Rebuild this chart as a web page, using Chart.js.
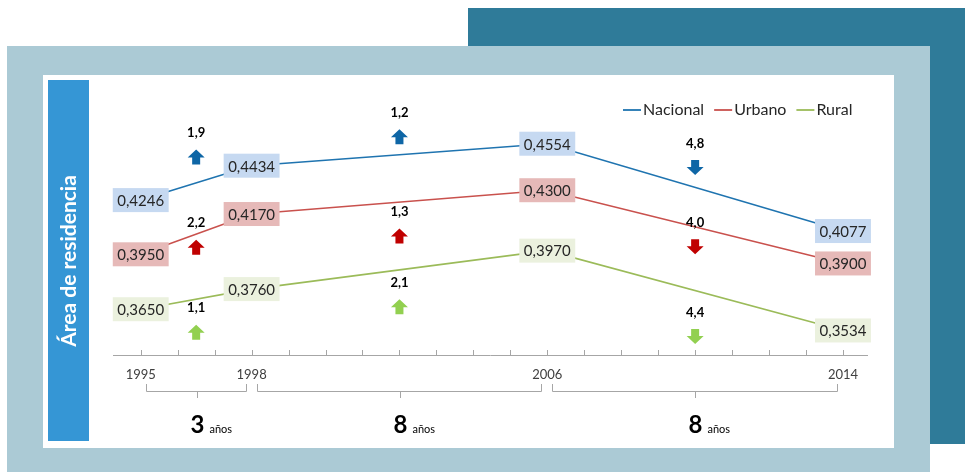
<!DOCTYPE html>
<html>
<head>
<meta charset="utf-8">
<script src="https://cdn.jsdelivr.net/npm/chart.js"></script>
<style>
  html, body { margin: 0; padding: 0; background: #fff; }
  canvas { display: block; }
</style>
</head>
<body>
<canvas id="lineChart" width="965" height="472"></canvas>
<script>
const years = [1995, 1998, 2006, 2014];
const seriesNames = ['Nacional', 'Urbano', 'Rural'];
const nacional = [0.4246, 0.4434, 0.4554, 0.4077];
const urbano = [0.3950, 0.4170, 0.4300, 0.3900];
const rural = [0.3650, 0.3760, 0.3970, 0.3534];
// variación entre periodos (negativo = baja)
const nacionalChange = [1.9, 1.2, -4.8];
const urbanoChange = [2.2, 1.3, -4.0];
const ruralChange = [1.1, 2.1, -4.4];
const titleText = 'Área de residencia';
const unitText = 'años';

const FONT = 'Lato, "Noto Sans", sans-serif';
const lineColors = ['#1F74B0', '#C9514D', '#9BBB59'];
const boxColors = ['#C6D9F1', '#E6B9B8', '#EBF1DE'];
const arrowColors = ['#0E66A6', '#C00000', '#92D050'];
// desplazamiento vertical de las flechas respecto al punto medio del tramo
const arrowOffsets = [[-26, -18, -20], [13, 34, 20], [33, 37, 46]];

const allValues = [nacional, urbano, rural];
const allChanges = [nacionalChange, urbanoChange, ruralChange];

const fmt = v => v.toFixed(4).replace('.', ',');
const fmt1 = v => Math.abs(v).toFixed(1).replace('.', ',');

function drawArrow(ctx, x, y, up, color) {
  const w = 17, h = 15, head = 8, shaft = 8;
  const d = up ? 1 : -1;
  const top = y - d * h / 2, bot = y + d * h / 2, neck = top + d * head;
  ctx.fillStyle = color;
  ctx.beginPath();
  ctx.moveTo(x, top);
  ctx.lineTo(x + w / 2, neck);
  ctx.lineTo(x + shaft / 2, neck);
  ctx.lineTo(x + shaft / 2, bot);
  ctx.lineTo(x - shaft / 2, bot);
  ctx.lineTo(x - shaft / 2, neck);
  ctx.lineTo(x - w / 2, neck);
  ctx.closePath();
  ctx.fill();
}

const decoPlugin = {
  id: 'deco',
  beforeDraw(chart) {
    const ctx = chart.ctx;
    ctx.save();
    ctx.fillStyle = '#2F7B99';
    ctx.fillRect(468, 8, 497, 436);
    ctx.fillStyle = '#ABCAD5';
    ctx.fillRect(7, 46, 923, 426);
    ctx.fillStyle = '#FFFFFF';
    ctx.fillRect(43, 75, 851, 373);
    ctx.fillStyle = '#3596D5';
    ctx.fillRect(48, 80, 41, 361);
    ctx.translate(68, 261);
    ctx.rotate(-Math.PI / 2);
    ctx.fillStyle = '#FFFFFF';
    ctx.font = 'bold 21px ' + FONT;
    ctx.textAlign = 'center';
    ctx.textBaseline = 'middle';
    ctx.fillText(titleText, 0, 1);
    ctx.restore();
  },
  afterDatasetsDraw(chart) {
    const ctx = chart.ctx;
    const xs = chart.scales.x, ys = chart.scales.y;
    ctx.save();

    // flechas y variaciones
    allChanges.forEach((ch, s) => {
      ch.forEach((v, i) => {
        const x = xs.getPixelForValue((years[i] + years[i + 1]) / 2);
        const yMid = (ys.getPixelForValue(allValues[s][i]) + ys.getPixelForValue(allValues[s][i + 1])) / 2;
        const ay = yMid + arrowOffsets[s][i];
        drawArrow(ctx, x, ay, v > 0, arrowColors[s]);
        ctx.fillStyle = '#000';
        ctx.font = 'bold 13px ' + FONT;
        ctx.textAlign = 'center';
        ctx.textBaseline = 'middle';
        ctx.fillText(fmt1(v), x, ay - 24);
      });
    });

    // etiquetas de valores
    ctx.font = '15px ' + FONT;
    ctx.textAlign = 'center';
    ctx.textBaseline = 'middle';
    allValues.forEach((vals, s) => {
      vals.forEach((v, i) => {
        const x = xs.getPixelForValue(years[i]);
        const y = ys.getPixelForValue(v);
        const t = fmt(v);
        const w = ctx.measureText(t).width + 9;
        ctx.fillStyle = boxColors[s];
        ctx.fillRect(x - w / 2, y - 12, w, 24);
        ctx.fillStyle = '#262626';
        ctx.fillText(t, x, y + 1);
      });
    });

    // leyenda
    let lx = 623;
    ctx.font = '16px ' + FONT;
    ctx.textAlign = 'left';
    seriesNames.forEach((name, s) => {
      ctx.strokeStyle = lineColors[s];
      ctx.lineWidth = 1.8;
      ctx.beginPath();
      ctx.moveTo(lx, 110);
      ctx.lineTo(lx + 18, 110);
      ctx.stroke();
      ctx.fillStyle = '#262626';
      ctx.fillText(name, lx + 20, 110);
      lx += 20 + ctx.measureText(name).width + 10;
    });
    ctx.restore();
  },
  afterDraw(chart) {
    const ctx = chart.ctx;
    const xs = chart.scales.x;
    const bottom = chart.chartArea.bottom;
    ctx.save();
    ctx.strokeStyle = '#A6A6A6';
    ctx.lineWidth = 1;
    // marcas del eje
    xs.ticks.forEach(t => {
      const x = Math.round(xs.getPixelForValue(t.value)) + 0.5;
      ctx.beginPath();
      ctx.moveTo(x, bottom);
      ctx.lineTo(x, bottom - 5);
      ctx.stroke();
    });
    // llaves con la duración de cada periodo
    for (let i = 0; i < years.length - 1; i++) {
      const xa = Math.round(xs.getPixelForValue(years[i])) + 5.5;
      const xb = Math.round(xs.getPixelForValue(years[i + 1])) - 5.5;
      const xm = Math.round((xa + xb) / 2) + 0.5;
      ctx.strokeStyle = '#A6A6A6';
      ctx.beginPath();
      ctx.moveTo(xa, 384);
      ctx.lineTo(xa, 391.5);
      ctx.lineTo(xb, 391.5);
      ctx.lineTo(xb, 384);
      ctx.moveTo(xm, 391.5);
      ctx.lineTo(xm, 398);
      ctx.stroke();

      const n = String(years[i + 1] - years[i]);
      ctx.fillStyle = '#000';
      ctx.textBaseline = 'alphabetic';
      ctx.textAlign = 'center';
      ctx.font = 'bold 24px ' + FONT;
      const nw = ctx.measureText(n).width;
      ctx.fillText(n, xm, 433);
      ctx.textAlign = 'left';
      ctx.font = '11px ' + FONT;
      ctx.fillText(unitText, xm + nw / 2 + 5, 433);
    }
    ctx.restore();
  }
};

const ctx = document.getElementById('lineChart').getContext('2d');
const lineChart = new Chart(ctx, {
  type: 'line',
  data: {
    datasets: allValues.map((vals, s) => ({
      label: seriesNames[s],
      data: vals.map((v, i) => ({ x: years[i], y: v })),
      borderColor: lineColors[s],
      borderWidth: 1.6,
      pointRadius: 0,
      tension: 0,
      fill: false
    }))
  },
  options: {
    responsive: false,
    animation: false,
    devicePixelRatio: 1,
    layout: { padding: { left: 113, right: 98, top: 80, bottom: 87 } },
    plugins: {
      legend: { display: false },
      tooltip: { enabled: false }
    },
    scales: {
      x: {
        type: 'linear',
        min: 1994.25,
        max: 2014.65,
        afterBuildTicks(scale) {
          const t = [];
          for (let y = years[0]; y <= years[years.length - 1]; y++) t.push({ value: y });
          scale.ticks = t;
        },
        afterFit(scale) { scale.height = 30; },
        grid: { display: false, drawTicks: false },
        border: { display: true, color: '#A6A6A6', width: 1 },
        ticks: {
          autoSkip: false,
          maxRotation: 0,
          padding: 12,
          color: '#404040',
          font: { family: FONT, size: 13 },
          callback: v => years.includes(v) ? String(v) : ''
        }
      },
      y: {
        display: false,
        min: 0.34,
        max: 0.4902
      }
    }
  },
  plugins: [decoPlugin]
});
</script>
</body>
</html>
